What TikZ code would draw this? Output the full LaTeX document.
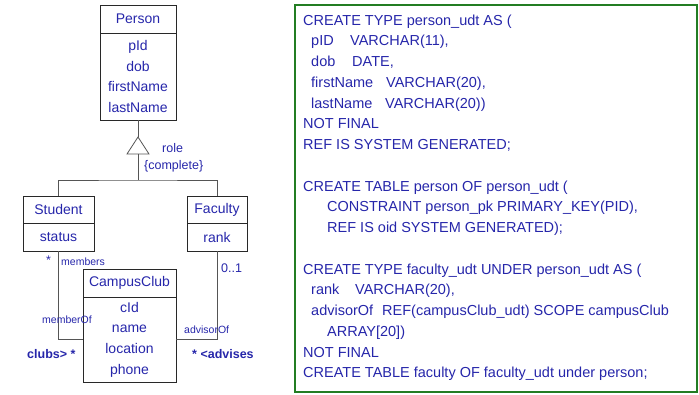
\documentclass[tikz,border=0pt]{standalone}
\usepackage{fontspec}
\setmainfont{Liberation Sans}
\definecolor{txtblue}{RGB}{38,38,170}
\definecolor{boxline}{RGB}{40,40,40}
\definecolor{connline}{RGB}{85,85,85}
\definecolor{framegreen}{RGB}{35,125,35}
\begin{document}
\begin{tikzpicture}[x=1pt,y=-1pt,
  umlbox/.style={draw=boxline, line width=0.8pt, inner sep=0pt, text=txtblue,
    font=\fontsize{14}{20.7}\selectfont, align=center},
  conn/.style={draw=connline, line width=0.8pt},
  lbl/.style={text=txtblue, inner sep=0pt, anchor=west},
  small/.style={lbl, font=\fontsize{10.5}{12}\selectfont},
  mid/.style={lbl, font=\fontsize{12.5}{14}\selectfont},
  boldlbl/.style={lbl, font=\fontsize{12.5}{14}\selectfont\bfseries},
  code/.style={text=txtblue, inner sep=0pt, anchor=base west,
    font=\fontsize{14.5}{17}\selectfont}]
\useasboundingbox (0,0) rectangle (699,394);

% ---- UML classes ----
\node[umlbox, minimum width=76pt, minimum height=28pt] (perH) at (138,19) {Person};
\node[umlbox, minimum width=76pt, minimum height=87pt] (perB) at (138,76.5)
  {pId\\dob\\firstName\\lastName};

\node[umlbox, minimum width=71pt, minimum height=27pt] (stuH) at (58.5,209.5) {Student};
\node[umlbox, minimum width=71pt, minimum height=28pt] (stuB) at (58.5,237) {status};

\node[umlbox, minimum width=60pt, minimum height=27pt] (facH) at (217,209.5) {Faculty};
\node[umlbox, minimum width=60pt, minimum height=28pt] (facB) at (217,237) {rank};

\node[umlbox, minimum width=93pt, minimum height=28pt] (clubH) at (129.5,283) {CampusClub};
\node[umlbox, minimum width=93pt, minimum height=85pt] (clubB) at (129.5,339.5)
  {cId\\name\\location\\phone};

% ---- generalization ----
\coordinate (genTop) at (138,137);
\coordinate (genBot) at (138,154);
\coordinate (genJoin) at (138,180);
\draw[conn] (perB.south) -- (genTop);
\draw[conn] (genTop) -- (149,154) -- (127,154) -- cycle;
\draw[conn] (genBot) -- (genJoin);
\draw[conn] (stuH.north) |- (genJoin) -| (facH.north);
\node[mid] (roleLbl) at (162,148) {role};
\node[mid] (complLbl) at (144,166) {\{complete\}};

% ---- associations ----
\draw[conn] (stuB.south) |- (clubB.west);
\draw[conn] (facB.south) |- (clubB.east);

\node[mid] (stuMult) at (46,260) {*};
\node[small] (membersLbl) at (61,262) {members};
\node[small] (memberOfLbl) at (42,320) {memberOf};
\node[boldlbl] (clubsLbl) at (27,354) {clubs> *};

\node[mid] (facMult) at (221,268) {0..1};
\node[small] (advisorOfLbl) at (184,330) {advisorOf};
\node[boldlbl] (advisesLbl) at (192,354) {* <advises};

% ---- SQL definitions ----
\draw[draw=framegreen, line width=1.6pt] (295,5) rectangle (697,392);

\node[code] (c1) at (303,25) {CREATE TYPE person\_udt AS (};
\node[code] (c2) at (311,45.75) {\makebox[39pt][l]{pID}VARCHAR(11),};
\node[code] (c3) at (311,66.5) {\makebox[41pt][l]{dob}DATE,};
\node[code] (c4) at (311,87.25) {\makebox[75pt][l]{firstName}VARCHAR(20),};
\node[code] (c5) at (311,108) {\makebox[74pt][l]{lastName}VARCHAR(20))};
\node[code] (c6) at (303,128.75) {NOT FINAL};
\node[code] (c7) at (303,149.5) {REF IS SYSTEM GENERATED;};

\node[code] (c9) at (303,191) {CREATE TABLE person OF person\_udt (};
\node[code] (c10) at (327,211.75) {CONSTRAINT person\_pk PRIMARY\_KEY(PID),};
\node[code] (c11) at (327,232.5) {REF IS oid SYSTEM GENERATED);};

\node[code] (c13) at (303,274) {CREATE TYPE faculty\_udt UNDER person\_udt AS (};
\node[code] (c14) at (311,294.75) {\makebox[44pt][l]{rank}VARCHAR(20),};
\node[code] (c15) at (311,315.5) {\makebox[71pt][l]{advisorOf}REF(campusClub\_udt) SCOPE campusClub};
\node[code] (c16) at (327,336.25) {ARRAY[20])};
\node[code] (c17) at (303,357) {NOT FINAL};
\node[code] (c18) at (303,377.75) {CREATE TABLE faculty OF faculty\_udt under person;};
\end{tikzpicture}
\end{document}
